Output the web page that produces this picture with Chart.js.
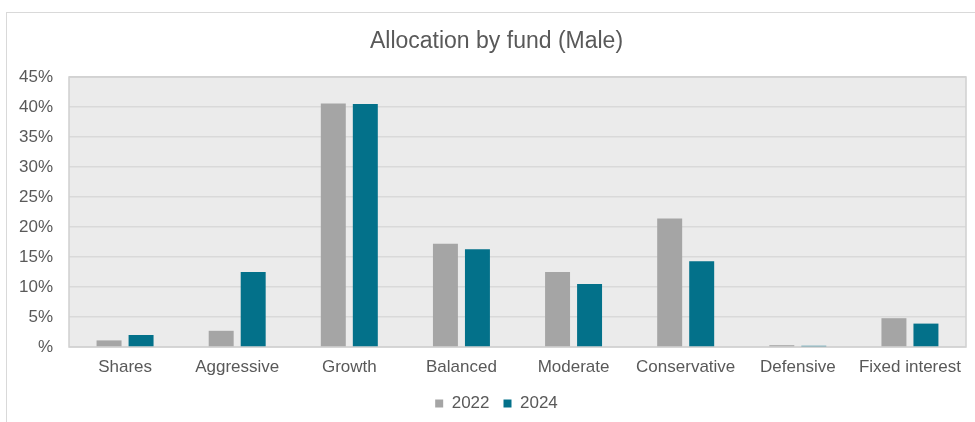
<!DOCTYPE html>
<html>
<head>
<meta charset="utf-8">
<title>Allocation by fund (Male)</title>
<script src="https://cdn.jsdelivr.net/npm/chart.js@4"></script>
<style>
  html, body { margin: 0; padding: 0; background: #fff; overflow: hidden; }
  #frame {
    position: absolute; left: 6px; top: 12px;
    width: 1000px; height: 440px;
    border: 1px solid #d9d9d9;
  }
  #wrap { position: absolute; left: 0; top: 0; width: 986px; height: 422px; }
</style>
</head>
<body>
<div id="frame"></div>
<div id="wrap"><canvas id="fundChart"></canvas></div>
<script>
// Datos del gráfico (porcentajes)
const categories = ['Shares', 'Aggressive', 'Growth', 'Balanced', 'Moderate', 'Conservative', 'Defensive', 'Fixed interest'];
const share2022 = [1.1, 2.7, 40.6, 17.2, 12.5, 21.4, 0.3, 4.8];
const share2024 = [2.0, 12.5, 40.5, 16.3, 10.5, 14.3, 0.2, 3.9];
const yTicks = [0, 5, 10, 15, 20, 25, 30, 35, 40, 45];

const textColor = '#595959';
const gridColor = '#d9d9d9';
const fontFamily = 'Liberation Sans, Arial, sans-serif';

// Fondo gris y borde del área de trazado
const plotArea = {
    id: 'plotArea',
    beforeDraw(chart) {
        const { ctx, chartArea: a } = chart;
        ctx.save();
        ctx.fillStyle = '#ebebeb';
        ctx.fillRect(a.left, a.top, a.right - a.left, a.bottom - a.top);
        ctx.restore();
    },
    beforeDatasetsDraw(chart) {
        const { ctx, chartArea: a } = chart;
        ctx.save();
        ctx.strokeStyle = '#d0d0d0';
        ctx.lineWidth = 1.5;
        ctx.strokeRect(a.left, a.top, a.right - a.left, a.bottom - a.top);
        ctx.restore();
    }
};

const ctx = document.getElementById('fundChart').getContext('2d');

new Chart(ctx, {
    type: 'bar',
    data: {
        labels: categories,
        datasets: [{
            label: '2022',
            data: share2022,
            backgroundColor: '#a5a5a5',
            borderWidth: 0,
            categoryPercentage: 0.571,
            barPercentage: 0.78
        }, {
            label: '2024',
            data: share2024,
            backgroundColor: '#03718a',
            borderWidth: 0,
            categoryPercentage: 0.571,
            barPercentage: 0.78
        }]
    },
    options: {
        responsive: true,
        maintainAspectRatio: false,
        animation: false,
        layout: { padding: { left: 7, top: 12, right: 0, bottom: 0 } },
        plugins: {
            title: {
                display: true,
                text: 'Allocation by fund (Male)',
                color: textColor,
                font: { family: fontFamily, size: 23, weight: 'normal' },
                padding: { top: 16, bottom: 21.4 }
            },
            legend: {
                position: 'bottom',
                labels: {
                    color: textColor,
                    font: { family: fontFamily, size: 17 },
                    boxWidth: 8,
                    boxHeight: 8,
                    padding: 14
                }
            },
            tooltip: { enabled: false }
        },
        scales: {
            x: {
                grid: { display: false, drawTicks: false },
                border: { display: false },
                ticks: {
                    color: textColor,
                    font: { family: fontFamily, size: 17 },
                    padding: 10,
                    maxRotation: 0,
                    autoSkip: false
                },
                afterFit(scale) { scale.height = 34; }
            },
            y: {
                min: 0,
                max: 45,
                afterBuildTicks(scale) { scale.ticks = yTicks.map(v => ({ value: v })); },
                grid: { color: gridColor, lineWidth: 1.5, drawTicks: false },
                border: { display: false },
                ticks: {
                    color: textColor,
                    font: { family: fontFamily, size: 17 },
                    padding: 16,
                    callback: v => (v === 0 ? '%' : v + '%')
                },
                afterFit(scale) { scale.width = 62; }
            },
            yRight: {
                position: 'right',
                grid: { display: false },
                border: { display: false },
                ticks: { display: false },
                afterFit(scale) { scale.width = 20; }
            }
        }
    },
    plugins: [plotArea]
});
</script>
</body>
</html>
